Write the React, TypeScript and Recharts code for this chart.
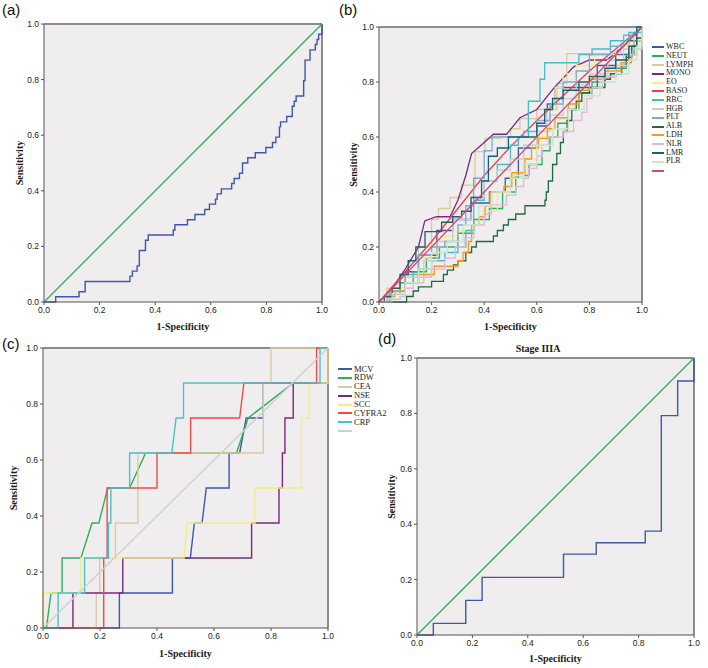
import React from 'react';
import { LineChart, Line, XAxis, YAxis, CartesianGrid, ReferenceLine, Legend } from 'recharts';

type Pt = [number, number];

const ticks = [0, 0.2, 0.4, 0.6, 0.8, 1];
const diagonal: Pt[] = [[0, 0], [1, 1]];

// (a) step points: each pair is where the curve lands after a vertical jump
const rocA: Pt[] = [
  [0, 0], [0.042, 0.019], [0.126, 0.037], [0.148, 0.074], [0.309, 0.093], [0.318, 0.111],
  [0.335, 0.13], [0.343, 0.185], [0.365, 0.222], [0.375, 0.241], [0.465, 0.259], [0.471, 0.278],
  [0.516, 0.296], [0.543, 0.315], [0.578, 0.333], [0.595, 0.352], [0.617, 0.37], [0.623, 0.389],
  [0.638, 0.407], [0.675, 0.426], [0.684, 0.444], [0.703, 0.463], [0.714, 0.5], [0.733, 0.519],
  [0.76, 0.537], [0.798, 0.556], [0.822, 0.574], [0.834, 0.593], [0.847, 0.63], [0.851, 0.648],
  [0.873, 0.667], [0.893, 0.704], [0.9, 0.722], [0.907, 0.741], [0.934, 0.796], [0.939, 0.87],
  [0.957, 0.907], [0.976, 0.926], [0.982, 0.944], [0.988, 0.963], [1, 1],
];

// (b) step points per marker
const wbc: Pt[] = [[0, 0], [0.05, 0.04], [0.1, 0.11], [0.15, 0.17], [0.22, 0.26], [0.28, 0.3], [0.35, 0.36], [0.42, 0.4], [0.48, 0.45], [0.53, 0.56], [0.6, 0.64], [0.64, 0.72], [0.67, 0.78], [0.77, 0.78], [0.83, 0.86], [0.9, 0.9], [0.95, 0.95], [1, 1]];
const neut: Pt[] = [[0, 0], [0.04, 0.03], [0.08, 0.07], [0.13, 0.11], [0.18, 0.16], [0.23, 0.2], [0.3, 0.25], [0.36, 0.3], [0.42, 0.34], [0.47, 0.4], [0.52, 0.46], [0.57, 0.5], [0.62, 0.55], [0.65, 0.6], [0.68, 0.65], [0.72, 0.7], [0.76, 0.76], [0.81, 0.8], [0.86, 0.82], [0.9, 0.85], [0.94, 0.9], [0.97, 0.95], [1, 1]];
const lymph: Pt[] = [[0, 0], [0.03, 0.05], [0.1, 0.1], [0.15, 0.2], [0.2, 0.3], [0.226, 0.34], [0.27, 0.38], [0.314, 0.425], [0.365, 0.547], [0.403, 0.595], [0.46, 0.6], [0.5, 0.63], [0.536, 0.667], [0.6, 0.7], [0.676, 0.794], [0.714, 0.903], [0.859, 0.903], [0.92, 0.93], [0.97, 0.96], [1, 1]];
const mono: Pt[] = [[0, 0], [0.05, 0.05], [0.1, 0.12], [0.15, 0.2], [0.174, 0.295], [0.218, 0.31], [0.27, 0.31], [0.3, 0.37], [0.33, 0.46], [0.352, 0.54], [0.4, 0.58], [0.435, 0.61], [0.485, 0.61], [0.536, 0.67], [0.6, 0.7], [0.663, 0.776], [0.74, 0.855], [0.8, 0.88], [0.867, 0.88], [0.93, 0.93], [1, 1]];
const eo: Pt[] = [[0, 0], [0.05, 0.05], [0.1, 0.1], [0.15, 0.16], [0.2, 0.2], [0.25, 0.24], [0.3, 0.26], [0.36, 0.28], [0.4, 0.33], [0.45, 0.4], [0.5, 0.46], [0.55, 0.52], [0.6, 0.6], [0.64, 0.7], [0.67, 0.78], [0.7, 0.83], [0.75, 0.86], [0.82, 0.9], [0.9, 0.93], [0.95, 0.96], [1, 1]];
const baso: Pt[] = [[0, 0], [0.1, 0.11], [0.2, 0.22], [0.3, 0.34], [0.4, 0.46], [0.5, 0.565], [0.6, 0.66], [0.7, 0.75], [0.8, 0.84], [0.9, 0.92], [1, 1]];
const rbc: Pt[] = [[0, 0], [0.05, 0.03], [0.1, 0.07], [0.15, 0.12], [0.2, 0.15], [0.25, 0.18], [0.3, 0.2], [0.33, 0.26], [0.36, 0.37], [0.4, 0.44], [0.45, 0.5], [0.5, 0.57], [0.53, 0.6], [0.568, 0.73], [0.612, 0.81], [0.63, 0.87], [0.733, 0.87], [0.76, 0.9], [0.81, 0.92], [0.88, 0.95], [0.95, 0.98], [1, 1]];
const hgb: Pt[] = [[0, 0], [0.05, 0.04], [0.1, 0.09], [0.17, 0.15], [0.22, 0.22], [0.28, 0.3], [0.35, 0.38], [0.4, 0.44], [0.45, 0.48], [0.5, 0.52], [0.55, 0.57], [0.6, 0.62], [0.65, 0.68], [0.7, 0.74], [0.75, 0.79], [0.8, 0.83], [0.87, 0.88], [0.93, 0.92], [1, 1]];
const plt: Pt[] = [[0, 0], [0.04, 0.04], [0.1, 0.1], [0.15, 0.17], [0.2, 0.2], [0.25, 0.22], [0.3, 0.28], [0.33, 0.35], [0.36, 0.45], [0.4, 0.55], [0.43, 0.6], [0.5, 0.6], [0.55, 0.62], [0.6, 0.66], [0.65, 0.72], [0.7, 0.8], [0.75, 0.84], [0.8, 0.9], [0.88, 0.93], [0.93, 0.97], [0.98, 1], [1, 1]];
const alb: Pt[] = [[0, 0], [0.105, 0.02], [0.13, 0.04], [0.15, 0.055], [0.2, 0.075], [0.245, 0.1], [0.26, 0.116], [0.283, 0.135], [0.3, 0.15], [0.33, 0.18], [0.352, 0.2], [0.37, 0.22], [0.435, 0.24], [0.45, 0.26], [0.473, 0.28], [0.492, 0.3], [0.52, 0.32], [0.555, 0.35], [0.631, 0.37], [0.636, 0.4], [0.644, 0.44], [0.66, 0.5], [0.676, 0.54], [0.69, 0.58], [0.701, 0.62], [0.715, 0.66], [0.733, 0.7], [0.75, 0.73], [0.771, 0.76], [0.8, 0.78], [0.859, 0.81], [0.88, 0.83], [0.923, 0.86], [0.94, 0.89], [0.961, 0.93], [0.98, 0.96], [1, 1]];
const ldh: Pt[] = [[0, 0], [0.03, 0.02], [0.06, 0.04], [0.1, 0.07], [0.15, 0.1], [0.21, 0.13], [0.3, 0.15], [0.32, 0.18], [0.34, 0.22], [0.352, 0.28], [0.38, 0.31], [0.403, 0.35], [0.422, 0.4], [0.475, 0.42], [0.505, 0.47], [0.555, 0.52], [0.58, 0.56], [0.606, 0.595], [0.64, 0.63], [0.669, 0.67], [0.72, 0.72], [0.76, 0.77], [0.8, 0.81], [0.86, 0.84], [0.92, 0.87], [0.96, 0.9], [0.98, 0.95], [1, 1]];
const nlr: Pt[] = [[0, 0], [0.03, 0.01], [0.08, 0.02], [0.1, 0.05], [0.13, 0.07], [0.17, 0.09], [0.2, 0.12], [0.25, 0.16], [0.29, 0.2], [0.327, 0.233], [0.36, 0.28], [0.4, 0.32], [0.428, 0.353], [0.485, 0.389], [0.52, 0.42], [0.55, 0.45], [0.568, 0.486], [0.6, 0.53], [0.62, 0.57], [0.644, 0.6], [0.7, 0.62], [0.74, 0.66], [0.771, 0.69], [0.79, 0.74], [0.81, 0.78], [0.85, 0.82], [0.9, 0.86], [0.95, 0.9], [0.98, 0.95], [1, 1]];
const lmr: Pt[] = [[0, 0], [0.02, 0.02], [0.05, 0.05], [0.08, 0.1], [0.111, 0.15], [0.14, 0.2], [0.175, 0.256], [0.238, 0.29], [0.28, 0.31], [0.314, 0.33], [0.35, 0.38], [0.39, 0.44], [0.416, 0.53], [0.45, 0.56], [0.492, 0.6], [0.58, 0.6], [0.6, 0.65], [0.63, 0.7], [0.66, 0.74], [0.7, 0.77], [0.76, 0.8], [0.8, 0.82], [0.859, 0.85], [0.9, 0.88], [0.95, 0.93], [0.98, 1], [1, 1]];
const plr: Pt[] = [[0, 0], [0.05, 0.03], [0.1, 0.07], [0.15, 0.12], [0.2, 0.18], [0.26, 0.22], [0.32, 0.28], [0.38, 0.35], [0.43, 0.4], [0.5, 0.45], [0.55, 0.5], [0.6, 0.57], [0.66, 0.63], [0.72, 0.7], [0.78, 0.75], [0.84, 0.8], [0.9, 0.83], [0.95, 0.88], [0.98, 0.93], [1, 1]];

// (c) polyline vertices, ties give the slanted pieces
const mcv: Pt[] = [[0, 0], [0.268, 0], [0.268, 0.125], [0.454, 0.125], [0.454, 0.25], [0.517, 0.25], [0.531, 0.375], [0.558, 0.375], [0.573, 0.5], [0.653, 0.5], [0.653, 0.625], [0.69, 0.625], [0.713, 0.75], [0.773, 0.75], [0.773, 0.875], [1, 0.875], [1, 1]];
const rdw: Pt[] = [[0, 0], [0.012, 0], [0.028, 0.125], [0.067, 0.125], [0.067, 0.25], [0.133, 0.25], [0.172, 0.375], [0.196, 0.375], [0.227, 0.5], [0.304, 0.5], [0.36, 0.625], [0.679, 0.625], [0.72, 0.75], [0.878, 0.875], [1, 0.875], [1, 1]];
const cea: Pt[] = [[0, 0], [0.187, 0], [0.187, 0.125], [0.199, 0.125], [0.199, 0.25], [0.254, 0.25], [0.254, 0.375], [0.333, 0.375], [0.333, 0.625], [0.773, 0.625], [0.773, 0.875], [0.8, 0.875], [0.8, 1], [1, 1]];
const nse: Pt[] = [[0, 0], [0.105, 0], [0.105, 0.125], [0.28, 0.125], [0.28, 0.25], [0.732, 0.25], [0.732, 0.375], [0.828, 0.375], [0.828, 0.5], [0.84, 0.5], [0.84, 0.625], [0.849, 0.625], [0.849, 0.75], [0.878, 0.75], [0.878, 0.875], [1, 0.875], [1, 1]];
const scc: Pt[] = [[0, 0], [0, 0.125], [0.133, 0.125], [0.133, 0.25], [0.495, 0.25], [0.506, 0.375], [0.744, 0.375], [0.744, 0.5], [0.907, 0.5], [0.907, 0.75], [0.934, 0.75], [0.934, 0.875], [1, 0.875], [1, 1]];
const cyfra: Pt[] = [[0, 0], [0.213, 0], [0.213, 0.25], [0.225, 0.25], [0.225, 0.5], [0.4, 0.5], [0.4, 0.625], [0.518, 0.625], [0.518, 0.75], [0.69, 0.75], [0.705, 0.875], [0.96, 0.875], [0.96, 1], [1, 1]];
const crp: Pt[] = [[0, 0], [0.053, 0], [0.053, 0.125], [0.146, 0.125], [0.146, 0.25], [0.23, 0.25], [0.23, 0.375], [0.238, 0.375], [0.238, 0.5], [0.304, 0.5], [0.304, 0.625], [0.452, 0.625], [0.467, 0.75], [0.493, 0.75], [0.493, 0.875], [0.972, 0.875], [0.972, 1], [1, 1]];

// (d) step points
const rocD: Pt[] = [[0, 0], [0.059, 0.042], [0.176, 0.125], [0.235, 0.208], [0.529, 0.292], [0.647, 0.333], [0.824, 0.375], [0.882, 0.792], [0.941, 0.917], [1, 1]];

const seriesB = [
  { name: 'WBC', color: '#3e58ac', pts: wbc, type: 'stepAfter' },
  { name: 'NEUT', color: '#2eb05a', pts: neut, type: 'stepAfter' },
  { name: 'LYMPH', color: '#d8cb9c', pts: lymph, type: 'stepAfter' },
  { name: 'MONO', color: '#7c287d', pts: mono, type: 'linear' },
  { name: 'EO', color: '#f8ec80', pts: eo, type: 'stepAfter' },
  { name: 'BASO', color: '#ef3d4a', pts: baso, type: 'linear' },
  { name: 'RBC', color: '#3fbfc8', pts: rbc, type: 'stepAfter' },
  { name: 'HGB', color: '#cccccc', pts: hgb, type: 'stepAfter' },
  { name: 'PLT', color: '#7aaad5', pts: plt, type: 'stepAfter' },
  { name: 'ALB', color: '#1f6b40', pts: alb, type: 'stepAfter' },
  { name: 'LDH', color: '#f8981d', pts: ldh, type: 'stepAfter' },
  { name: 'NLR', color: '#e2b8dc', pts: nlr, type: 'stepAfter' },
  { name: 'LMR', color: '#1a5f76', pts: lmr, type: 'stepAfter' },
  { name: 'PLR', color: '#c8e8c4', pts: plr, type: 'stepAfter' },
  { name: ' ', color: '#d24a6e', pts: diagonal, type: 'linear' },
];

const seriesC = [
  { name: 'MCV', color: '#3e58ac', pts: mcv },
  { name: 'RDW', color: '#2eb05a', pts: rdw },
  { name: 'CEA', color: '#dccaa4', pts: cea },
  { name: 'NSE', color: '#7c287d', pts: nse },
  { name: 'SCC', color: '#f8ec80', pts: scc },
  { name: 'CYFRA2', color: '#f04a4a', pts: cyfra },
  { name: 'CRP', color: '#48c2c8', pts: crp },
  { name: ' ', color: '#cfcfcf', pts: diagonal },
];

const rows = (pts: Pt[]) => pts.map(([x, y]) => ({ x, y }));
const fmt = (v: number) => v.toFixed(1);

const tickStyle = { fontSize: 8.5, fill: '#222', fontFamily: '"Liberation Sans", Arial, sans-serif' };
const titleStyle = { fontSize: 10, fontWeight: 700, fontFamily: '"Liberation Serif", "Times New Roman", serif', fill: '#1a1a1a' };
const plotBg = '#efeded';
const frameColor = '#8c8c8c';
const axisColor = '#555';

function xAxis(height: number, offset: number) {
  return (
    <XAxis
      type="number"
      dataKey="x"
      domain={[0, 1]}
      ticks={ticks}
      interval={0}
      tickFormatter={fmt}
      height={height}
      stroke={axisColor}
      tickSize={3}
      tickMargin={2}
      tick={tickStyle}
      label={{ value: '1-Specificity', position: 'insideBottom', offset, style: titleStyle }}
    />
  );
}

function yAxis(width: number, offset: number) {
  return (
    <YAxis
      type="number"
      dataKey="y"
      domain={[0, 1]}
      ticks={ticks}
      interval={0}
      tickFormatter={fmt}
      width={width}
      stroke={axisColor}
      tickSize={3}
      tickMargin={2}
      tick={tickStyle}
      label={{ value: 'Sensitivity', angle: -90, position: 'insideLeft', offset, style: { ...titleStyle, textAnchor: 'middle' } }}
    />
  );
}

const legendBox = (items: { name: string; color: string }[], lineW: number, fontSize: number, rowH: number) => () => (
  <div style={{ fontFamily: '"Liberation Serif", "Times New Roman", serif', fontSize, lineHeight: `${rowH}px`, color: '#222' }}>
    {items.map((s, i) => (
      <div key={i} style={{ display: 'flex', alignItems: 'center', height: rowH, whiteSpace: 'nowrap' }}>
        <div style={{ width: lineW, height: 2, background: s.color, marginRight: 2, flexShrink: 0 }} />
        <span>{s.name}</span>
      </div>
    ))}
  </div>
);

const panelLabel = (text: string, left: number, top: number) => (
  <div style={{ position: 'absolute', left, top, fontFamily: '"Liberation Sans", Arial, sans-serif', fontSize: 15, lineHeight: '15px', color: '#111' }}>
    {text}
  </div>
);

export default function App() {
  return (
    <div style={{ position: 'absolute', left: 0, top: 0, width: 708, height: 668, background: '#fff', overflow: 'hidden' }}>
      {/* (a) */}
      <div style={{ position: 'absolute', left: 0, top: 0 }}>
        <LineChart width={340} height={340} margin={{ top: 24, right: 18, bottom: 0, left: 0 }}>
          <CartesianGrid horizontal={false} vertical={false} fill={plotBg} />
          {xAxis(38, 10)}
          {yAxis(44, 19)}
          <ReferenceLine y={1} stroke={frameColor} strokeWidth={2} />
          <ReferenceLine x={1} stroke={frameColor} strokeWidth={2} />
          <Line data={rows(rocA)} dataKey="y" type="stepAfter" stroke="#3e58ac" strokeWidth={1.4} dot={false} isAnimationActive={false} />
          <Line data={rows(diagonal)} dataKey="y" type="linear" stroke="#2eb05a" strokeWidth={1.3} dot={false} isAnimationActive={false} />
        </LineChart>
      </div>

      {/* (b) */}
      <div style={{ position: 'absolute', left: 340, top: 0 }}>
        <LineChart width={368} height={340} margin={{ top: 27, right: 66, bottom: 0, left: 0 }}>
          <CartesianGrid horizontal={false} vertical={false} fill={plotBg} />
          {xAxis(38, 10)}
          {yAxis(39, 13)}
          <ReferenceLine y={1} stroke={frameColor} strokeWidth={2} />
          <ReferenceLine x={1} stroke={frameColor} strokeWidth={2} />
          {seriesB.map((s) => (
            <Line
              key={s.name}
              name={s.name}
              data={rows(s.pts)}
              dataKey="y"
              type={s.type as 'linear' | 'stepAfter'}
              stroke={s.color}
              strokeWidth={1.3}
              dot={false}
              isAnimationActive={false}
            />
          ))}
          <Legend
            layout="horizontal"
            align="center"
            verticalAlign="middle"
            content={legendBox(seriesB, 12, 8, 8.8)}
            wrapperStyle={{ left: 312, top: 43, width: 56, height: 'auto' }}
          />
        </LineChart>
      </div>

      {/* (c) */}
      <div style={{ position: 'absolute', left: 0, top: 330 }}>
        <LineChart width={400} height={338} margin={{ top: 18, right: 72, bottom: 0, left: 0 }}>
          <CartesianGrid horizontal={false} vertical={false} fill={plotBg} />
          {xAxis(40, 11)}
          {yAxis(43, 13)}
          <ReferenceLine y={1} stroke={frameColor} strokeWidth={2} />
          <ReferenceLine x={1} stroke={frameColor} strokeWidth={2} />
          {seriesC.map((s) => (
            <Line
              key={s.name}
              name={s.name}
              data={rows(s.pts)}
              dataKey="y"
              type="linear"
              stroke={s.color}
              strokeWidth={1.4}
              dot={false}
              isAnimationActive={false}
            />
          ))}
          <Legend
            layout="horizontal"
            align="center"
            verticalAlign="middle"
            content={legendBox(seriesC, 14, 8.5, 8.9)}
            wrapperStyle={{ left: 338, top: 34.5, width: 62, height: 'auto' }}
          />
        </LineChart>
      </div>

      {/* (d) */}
      <div style={{ position: 'absolute', left: 360, top: 330 }}>
        <LineChart width={348} height={338} margin={{ top: 28, right: 14, bottom: 0, left: 0 }}>
          <CartesianGrid horizontal={false} vertical={false} fill={plotBg} />
          {xAxis(33, 6)}
          {yAxis(57, 31)}
          <ReferenceLine y={1} stroke={frameColor} strokeWidth={2} />
          <ReferenceLine x={1} stroke={frameColor} strokeWidth={2} />
          <Line data={rows(rocD)} dataKey="y" type="stepAfter" stroke="#3e58ac" strokeWidth={1.4} dot={false} isAnimationActive={false} />
          <Line data={rows(diagonal)} dataKey="y" type="linear" stroke="#2eb05a" strokeWidth={1.3} dot={false} isAnimationActive={false} />
        </LineChart>
      </div>
      <div style={{ position: 'absolute', left: 488, top: 343, width: 100, textAlign: 'center', fontFamily: '"Liberation Serif", "Times New Roman", serif', fontWeight: 700, fontSize: 10, lineHeight: '11px', color: '#1a1a1a' }}>
        Stage IIIA
      </div>

      {panelLabel('(a)', 2, 2)}
      {panelLabel('(b)', 339, 2)}
      {panelLabel('(c)', 2, 336)}
      {panelLabel('(d)', 378, 331)}
    </div>
  );
}
